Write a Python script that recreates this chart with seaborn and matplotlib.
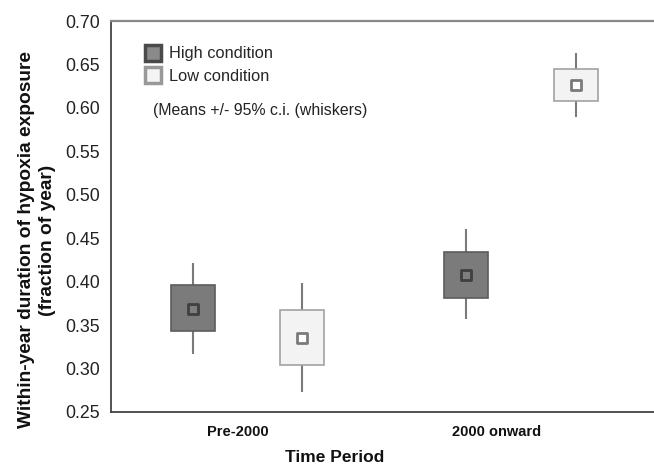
import matplotlib
matplotlib.use("Agg")
import matplotlib.pyplot as plt
from matplotlib.lines import Line2D
import seaborn as sns
import pandas as pd

# ---- data ----
periods = ["Pre-2000", "2000 onward"]
conditions = ["High condition", "Low condition"]

mean_high = [0.369, 0.408]
box_lo_high = [0.343, 0.381]
box_hi_high = [0.396, 0.434]
ci_lo_high = [0.317, 0.357]
ci_hi_high = [0.4215, 0.4605]

mean_low = [0.335, 0.626]
box_lo_low = [0.304, 0.608]
box_hi_low = [0.367, 0.645]
ci_lo_low = [0.273, 0.5895]
ci_hi_low = [0.3985, 0.663]

yticks = [0.25, 0.30, 0.35, 0.40, 0.45, 0.50, 0.55, 0.60, 0.65, 0.70]

# ---- style ----
sns.set_style("white")
plt.rcParams["font.family"] = ["Liberation Sans", "DejaVu Sans"]

fig = plt.figure(figsize=(6.54, 4.68), dpi=100)
ax = fig.add_axes([111 / 654, 56 / 468, 543 / 654, 391 / 468])

offset = 0.2
box_w = 0.161
group_pos = [0, 1]

styles = {
    "High condition": dict(fill="#7b7b7b", edge="#5c5c5c", mfc="#7e7e7e", mec="#3f3f3f"),
    "Low condition": dict(fill="#f3f3f3", edge="#a2a2a2", mfc="#ffffff", mec="#7a7a7a"),
}
series = {
    "High condition": (mean_high, box_lo_high, box_hi_high, ci_lo_high, ci_hi_high, -offset),
    "Low condition": (mean_low, box_lo_low, box_hi_low, ci_lo_low, ci_hi_low, offset),
}

for cond in conditions:
    m, blo, bhi, clo, chi, off = series[cond]
    st = styles[cond]
    xs = [g + off for g in group_pos]
    df = pd.DataFrame({"period": periods, "x": xs, "mean": m,
                       "blo": blo, "bhi": bhi, "clo": clo, "chi": chi})
    # whiskers (95% c.i.)
    ax.vlines(df["x"], df["bhi"], df["chi"], color="#7a7a7a", lw=1.5, zorder=1)
    ax.vlines(df["x"], df["clo"], df["blo"], color="#7a7a7a", lw=1.5, zorder=1)
    # boxes
    ax.bar(df["x"], df["bhi"] - df["blo"], bottom=df["blo"], width=box_w,
           color=st["fill"], edgecolor=st["edge"], linewidth=1.2, zorder=2)
    # means
    sns.scatterplot(data=df, x="x", y="mean", marker="s", s=42,
                    color=st["mfc"], edgecolor=st["mec"], linewidth=2.0,
                    ax=ax, legend=False, zorder=3)

ax.set_ylim(0.25, 0.70)
ax.set_xlim(-0.499, 1.486)
ax.set_yticks(yticks)
ax.set_yticklabels([f"{t:.2f}" for t in yticks], fontsize=12.8, color="#222222")
ax.set_xticks([-0.035, 0.912])
ax.set_xticklabels(periods, fontsize=10.5, fontweight="bold", color="#111111")

ax.tick_params(axis="y", direction="out", length=3, width=1, color="#555555", pad=5)
ax.tick_params(axis="x", direction="in", length=4, width=1, color="#555555", pad=9)

for side in ["left", "bottom"]:
    ax.spines[side].set_color("#444444")
    ax.spines[side].set_linewidth(1.3)
ax.spines["top"].set_color("#888888")
ax.spines["top"].set_linewidth(1.6)
ax.spines["right"].set_visible(False)

ax.set_xlabel("Time Period", fontsize=12.5, fontweight="bold", color="#111111", va="top")
ax.xaxis.set_label_coords(0.4125, -0.098)
ax.set_ylabel("Within-year duration of hypoxia exposure\n(fraction of year)",
              fontsize=13.8, fontweight="bold", color="#111111", linespacing=1.3)
ax.yaxis.set_label_coords(-0.101, 0.44)

handles = [
    Line2D([], [], marker="s", ls="", ms=11, mfc="#8a8a8a", mec="#4a4a4a", mew=2.5),
    Line2D([], [], marker="s", ls="", ms=11, mfc="#f4f4f4", mec="#999999", mew=2.5),
]
ax.legend(handles, conditions, loc="upper left", bbox_to_anchor=(0.064, 0.935),
          frameon=False, fontsize=11.8, handlelength=0.9, handletextpad=0.5,
          labelspacing=0.45, borderaxespad=0, borderpad=0)

ax.text(0.077, 0.772, "(Means +/- 95% c.i. (whiskers)", transform=ax.transAxes,
        fontsize=11.4, va="center", ha="left", color="#222222")

fig.savefig("out.png", dpi=100)
